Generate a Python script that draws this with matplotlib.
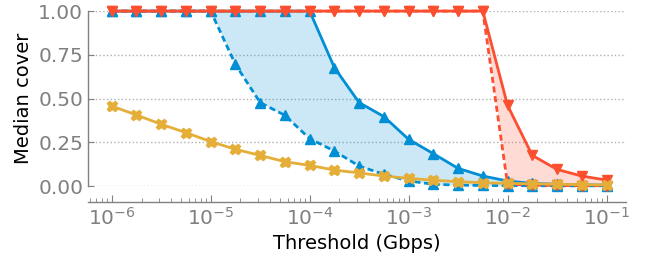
import numpy as np
import matplotlib
matplotlib.use("Agg")
import matplotlib.pyplot as plt

# thresholds: 4 points per decade, 1e-6 .. 1e-1
thresholds = np.logspace(-6, -1, 21)

blue_solid = [1.0, 1.0, 1.0, 1.0, 1.0, 1.0, 1.0, 1.0, 1.0, 0.677, 0.477,
              0.397, 0.267, 0.185, 0.101, 0.057, 0.029, 0.015, 0.010, 0.007, 0.005]
blue_dashed = [1.0, 1.0, 1.0, 1.0, 1.0, 0.695, 0.477, 0.404, 0.271, 0.20, 0.114,
               0.067, 0.029, 0.010, 0.005, 0.003, 0.002, 0.002, 0.001, 0.001, 0.001]
red_solid = [1.0, 1.0, 1.0, 1.0, 1.0, 1.0, 1.0, 1.0, 1.0, 1.0, 1.0,
             1.0, 1.0, 1.0, 1.0, 1.0, 0.461, 0.175, 0.095, 0.057, 0.034]
red_dashed = [1.0, 1.0, 1.0, 1.0, 1.0, 1.0, 1.0, 1.0, 1.0, 1.0, 1.0,
              1.0, 1.0, 1.0, 1.0, 1.0, 0.010, 0.005, 0.003, 0.002, 0.002]
yellow = [0.457, 0.406, 0.353, 0.305, 0.254, 0.21, 0.175, 0.139, 0.118, 0.091, 0.075,
          0.057, 0.044, 0.033, 0.025, 0.019, 0.015, 0.013, 0.010, 0.008, 0.006]

blue = '#008fd5'
red = '#fc4f30'
gold = '#e5ae38'
gray = '#808080'
dash = (0, (2.2, 1.3))

fig = plt.figure(figsize=(6.47, 2.58), dpi=100)
ax = fig.add_axes([0.136, 0.279, 0.832, 0.678])

ax.fill_between(thresholds, blue_dashed, blue_solid, color=blue, alpha=0.2, lw=0)
ax.fill_between(thresholds, red_dashed, red_solid, color=red, alpha=0.2, lw=0)

ax.plot(thresholds, blue_solid, color=blue, marker='^', ms=6.5, lw=2, clip_on=False, zorder=3)
ax.plot(thresholds, blue_dashed, color=blue, marker='^', ms=6.5, lw=2, ls=dash, clip_on=False, zorder=3)
ax.plot(thresholds, red_dashed, color=red, marker='v', ms=6.5, lw=2, ls=dash, clip_on=False, zorder=4)
ax.plot(thresholds, red_solid, color=red, marker='v', ms=6.5, lw=2, clip_on=False, zorder=4)
ax.plot(thresholds, yellow, color=gold, marker='X', ms=7.5, lw=2, clip_on=False, zorder=5)

ax.set_xscale('log')
ax.set_xlim(10 ** -6.24, 10 ** -0.8)
ax.set_ylim(0, 1)
ax.set_yticks([0, 0.25, 0.5, 0.75, 1.0])
ax.set_yticklabels(['0.00', '0.25', '0.50', '0.75', '1.00'])

ax.grid(axis='y', color='#b0b0b0', ls=':', lw=1)
ax.set_axisbelow(True)

for s in ['top', 'right']:
    ax.spines[s].set_visible(False)
for s in ['left', 'bottom']:
    ax.spines[s].set_color(gray)
    ax.spines[s].set_linewidth(1)
ax.spines['bottom'].set_position(('outward', 11.5))

ax.tick_params(axis='both', which='both', direction='in', colors=gray, labelsize=14.5)
ax.tick_params(axis='x', which='major', length=5)
ax.tick_params(axis='x', which='minor', length=3)
ax.tick_params(axis='y', length=4)

ax.set_xlabel('Threshold (Gbps)', fontsize=14)
ax.set_ylabel('Median cover', fontsize=14)

fig.savefig('out.png', dpi=100)
